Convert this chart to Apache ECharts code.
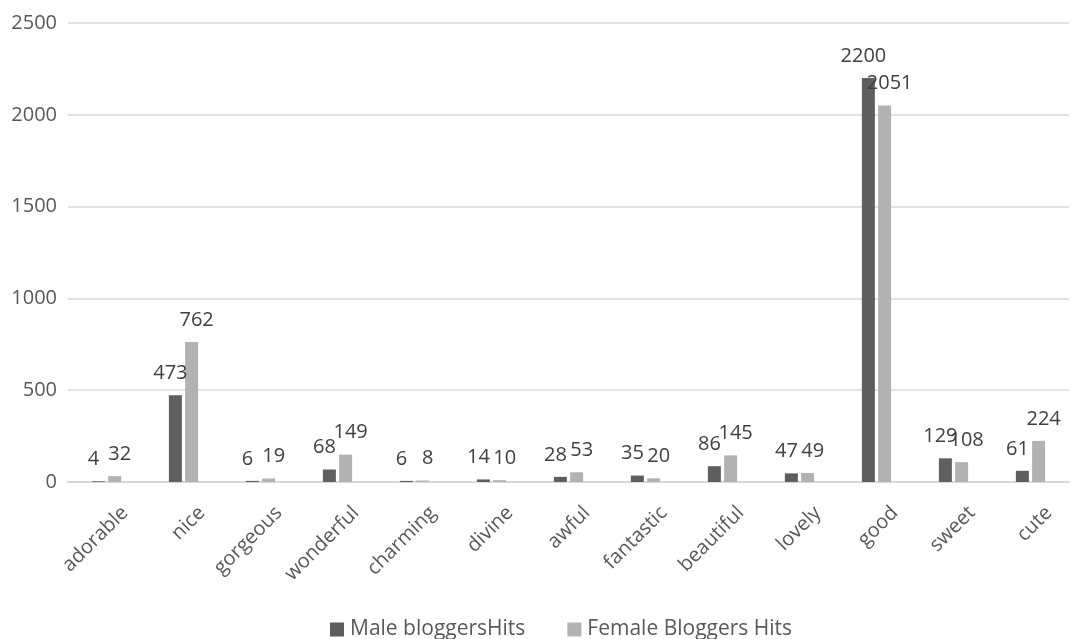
<!DOCTYPE html>
<html>
<head>
<meta charset="utf-8">
<script src="https://cdn.jsdelivr.net/npm/echarts@6/dist/echarts.min.js"></script>
<style>
  html, body { margin: 0; padding: 0; background: #fff; }
  #chart { width: 1078px; height: 639px; }
</style>
</head>
<body>
<div id="chart"></div>
<script>
const categories = ['adorable', 'nice', 'gorgeous', 'wonderful', 'charming', 'divine', 'awful', 'fantastic', 'beautiful', 'lovely', 'good', 'sweet', 'cute'];
const maleHits = [4, 473, 6, 68, 6, 14, 28, 35, 86, 47, 2200, 129, 61];
const femaleHits = [32, 762, 19, 149, 8, 10, 53, 20, 145, 49, 2051, 108, 224];
const yTicks = { min: 0, max: 2500, interval: 500 };

const FONT = '"Open Sans", "Liberation Sans", sans-serif';
const chart = echarts.init(document.getElementById('chart'));

function valueLabel(shiftX) {
  return {
    show: true,
    position: 'top',
    distance: 12,
    offset: [shiftX, 0],
    color: '#404040',
    fontSize: 20,
    fontFamily: FONT
  };
}

chart.setOption({
  animation: false,
  grid: { left: 68, right: 9, top: 23, bottom: 157, containLabel: false },
  legend: {
    bottom: -1,
    left: 330,
    padding: 0,
    itemWidth: 14,
    itemHeight: 14,
    itemGap: 42,
    icon: 'rect',
    textStyle: { color: '#595959', fontSize: 21, fontFamily: FONT, padding: [0, 0, 0, 1] },
    data: ['Male bloggersHits', 'Female Bloggers Hits']
  },
  xAxis: {
    type: 'category',
    data: categories,
    axisLine: { lineStyle: { color: '#d9d9d9', width: 2 } },
    axisTick: { show: false },
    axisLabel: {
      rotate: 45,
      interval: 0,
      margin: 32,
      align: 'right',
      verticalAlign: 'top',
      padding: [0, -16, 0, 0],
      color: '#595959',
      fontSize: 20,
      fontFamily: FONT
    }
  },
  yAxis: {
    type: 'value',
    min: yTicks.min,
    max: yTicks.max,
    interval: yTicks.interval,
    axisLine: { show: false },
    axisTick: { show: false },
    splitLine: { lineStyle: { color: '#d9d9d9', width: 1.5 } },
    axisLabel: {
      color: '#595959',
      fontSize: 20,
      fontFamily: FONT,
      margin: 11,
      formatter: v => String(v)
    }
  },
  series: [
    {
      name: 'Male bloggersHits',
      type: 'bar',
      data: maleHits,
      barWidth: 13,
      barGap: '25%',
      itemStyle: { color: '#5f5f5f' },
      label: valueLabel(-5)
    },
    {
      name: 'Female Bloggers Hits',
      type: 'bar',
      data: femaleHits,
      barWidth: 13,
      itemStyle: { color: '#b2b2b2' },
      label: valueLabel(5)
    }
  ]
});
</script>
</body>
</html>
